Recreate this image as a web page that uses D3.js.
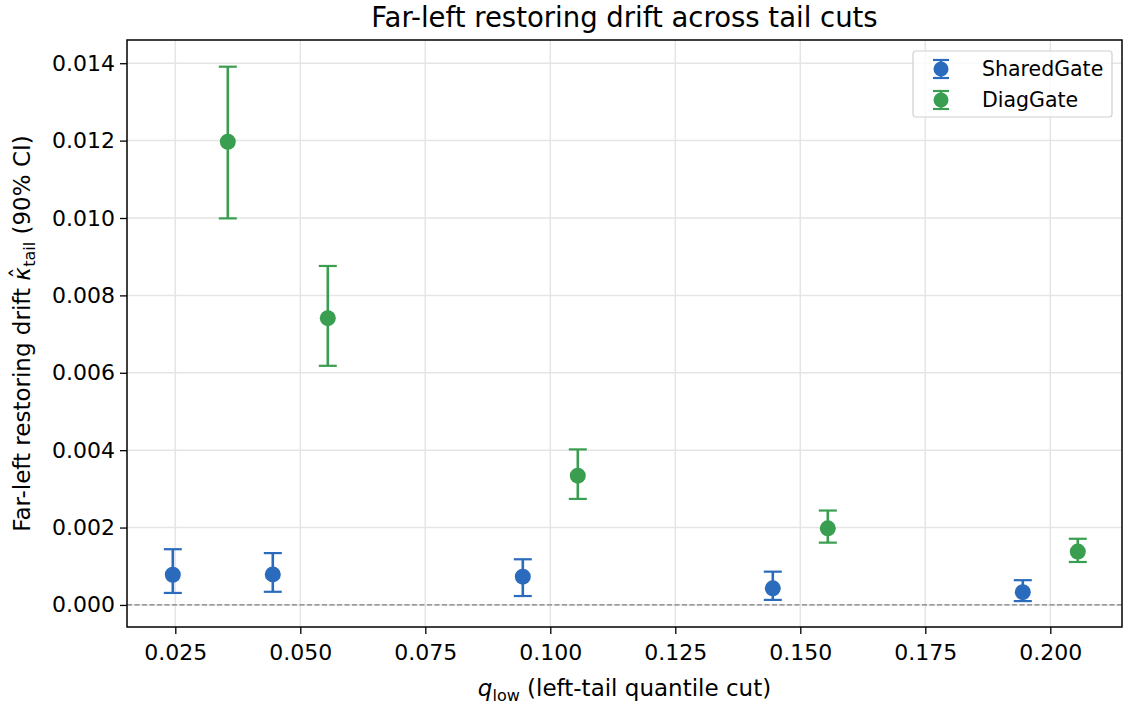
<!DOCTYPE html>
<html>
<head>
<meta charset="utf-8">
<script src="https://cdn.jsdelivr.net/npm/d3@7"></script>
<style>
  body { margin: 0; background: #fff; }
  svg { font-family: "DejaVu Sans", sans-serif; }
</style>
</head>
<body>
<div class="svg_container"></div>
<script>
// data
var qCuts = [0.03, 0.05, 0.10, 0.15, 0.20];
var sharedMean = [0.00078, 0.00079, 0.00073, 0.00043, 0.00033];
var sharedLo = [0.00031, 0.00034, 0.00023, 0.00013, 0.00010];
var sharedHi = [0.00144, 0.00134, 0.00118, 0.00086, 0.00064];
var diagMean = [0.01197, 0.00741, 0.00334, 0.00198, 0.00138];
var diagLo = [0.00999, 0.00618, 0.00274, 0.00161, 0.00111];
var diagHi = [0.01391, 0.00876, 0.00402, 0.00244, 0.00171];
var xTicks = [0.025, 0.05, 0.075, 0.1, 0.125, 0.15, 0.175, 0.2];
var yTicks = [0, 0.002, 0.004, 0.006, 0.008, 0.010, 0.012, 0.014];
var seriesNames = ["SharedGate", "DiagGate"];

const WIDTH = 1123;
const HEIGHT = 706;
const LEFT = 127, RIGHT = 1122, TOP = 40, BOTTOM = 627;
const DODGE = 0.0055;
const COLORS = ["#2b6bbd", "#3a9e50"];

var translate = function (x, y) {
  return "translate(" + x + "," + y + ")";
};

var _xScale = d3.scaleLinear()
  .domain([0.01534, 0.21434])
  .range([LEFT, RIGHT]);

var _yScale = d3.scaleLinear()
  .domain([-0.00057, 0.0146])
  .range([BOTTOM, TOP]);

var buildSeries = function (mean, lo, hi, shift) {
  return qCuts.map(function (q, i) {
    return { x: q + shift, y: mean[i], lo: lo[i], hi: hi[i] };
  });
};

var series = [
  buildSeries(sharedMean, sharedLo, sharedHi, -DODGE),
  buildSeries(diagMean, diagLo, diagHi, DODGE)
];

var svg = d3.select('.svg_container').append('svg')
  .attr('width', WIDTH)
  .attr('height', HEIGHT);

// grid
var grid = svg.append('g');
grid.selectAll('.vg').data(xTicks).enter().append('line')
  .attr('x1', function (d) { return _xScale(d); })
  .attr('x2', function (d) { return _xScale(d); })
  .attr('y1', TOP).attr('y2', BOTTOM)
  .attr('stroke', '#e5e5e5').attr('stroke-width', 1.5);
grid.selectAll('.hg').data(yTicks).enter().append('line')
  .attr('y1', function (d) { return _yScale(d); })
  .attr('y2', function (d) { return _yScale(d); })
  .attr('x1', LEFT).attr('x2', RIGHT)
  .attr('stroke', '#e5e5e5').attr('stroke-width', 1.5);

// zero line
svg.append('line')
  .attr('x1', LEFT).attr('x2', RIGHT)
  .attr('y1', _yScale(0)).attr('y2', _yScale(0))
  .attr('stroke', '#808080').attr('stroke-width', 1.3)
  .attr('stroke-dasharray', '5,2.5');

// error bars + points
series.forEach(function (data, s) {
  var g = svg.append('g');
  var col = COLORS[s];
  g.selectAll('.bar').data(data).enter().append('line')
    .attr('x1', function (d) { return _xScale(d.x); })
    .attr('x2', function (d) { return _xScale(d.x); })
    .attr('y1', function (d) { return _yScale(d.lo); })
    .attr('y2', function (d) { return _yScale(d.hi); })
    .attr('stroke', col).attr('stroke-width', 2.6);
  ['lo', 'hi'].forEach(function (k) {
    g.selectAll('.cap' + k).data(data).enter().append('line')
      .attr('x1', function (d) { return _xScale(d.x) - 9; })
      .attr('x2', function (d) { return _xScale(d.x) + 9; })
      .attr('y1', function (d) { return _yScale(d[k]); })
      .attr('y2', function (d) { return _yScale(d[k]); })
      .attr('stroke', col).attr('stroke-width', 2.2);
  });
  g.selectAll('circle').data(data).enter().append('circle')
    .attr('cx', function (d) { return _xScale(d.x); })
    .attr('cy', function (d) { return _yScale(d.y); })
    .attr('r', 8)
    .attr('fill', col);
});

// axes
var xAxis = d3.axisBottom(_xScale).tickValues(xTicks)
  .tickFormat(d3.format('.3f')).tickSizeOuter(0).tickSize(7).tickPadding(10);
var yAxis = d3.axisLeft(_yScale).tickValues(yTicks)
  .tickFormat(d3.format('.3f')).tickSizeOuter(0).tickSize(7).tickPadding(5);

var gx = svg.append('g').attr('transform', translate(0, BOTTOM)).call(xAxis);
var gy = svg.append('g').attr('transform', translate(LEFT, 0)).call(yAxis);
[gx, gy].forEach(function (g) {
  g.select('.domain').remove();
  g.selectAll('line').attr('stroke', '#000').attr('stroke-width', 1.3);
  g.selectAll('text').attr('font-size', 22).attr('fill', '#000')
    .attr('font-family', '"DejaVu Sans", sans-serif');
});

// frame
svg.append('rect')
  .attr('x', LEFT).attr('y', TOP)
  .attr('width', RIGHT - LEFT).attr('height', BOTTOM - TOP)
  .attr('fill', 'none').attr('stroke', '#000').attr('stroke-width', 1.5);

// title
svg.append('text')
  .attr('x', (LEFT + RIGHT) / 2).attr('y', 27)
  .attr('text-anchor', 'middle').attr('font-size', 27.5)
  .text('Far-left restoring drift across tail cuts');

// x label
var xl = svg.append('text')
  .attr('x', (LEFT + RIGHT) / 2).attr('y', 696)
  .attr('text-anchor', 'middle').attr('font-size', 23);
xl.append('tspan').attr('font-style', 'italic').text('q');
xl.append('tspan').attr('font-size', 16).attr('dy', 5).text('low');
xl.append('tspan').attr('dy', -5).text(' (left-tail quantile cut)');

// y label
var yl = svg.append('text')
  .attr('transform', translate(30, (TOP + BOTTOM) / 2) + ' rotate(-90)')
  .attr('text-anchor', 'middle').attr('font-size', 23);
yl.append('tspan').text('Far-left restoring drift ');
yl.append('tspan').attr('font-style', 'italic').text('\u03BA');
yl.append('tspan').attr('dx', '-0.5em').attr('dy', -3).text('\u02C6');
yl.append('tspan').attr('font-size', 16).attr('dx', '0.02em').attr('dy', 8).text('tail');
yl.append('tspan').attr('dy', -5).text(' (90% CI)');

// legend
var legend = svg.append('g').attr('transform', translate(913, 51));
legend.append('rect')
  .attr('width', 199).attr('height', 66).attr('rx', 3)
  .attr('fill', '#fff').attr('fill-opacity', 0.8)
  .attr('stroke', '#d0d0d0').attr('stroke-width', 1.2);
seriesNames.forEach(function (name, i) {
  var row = legend.append('g').attr('transform', translate(28, 18 + i * 31));
  row.append('line').attr('x1', 0).attr('x2', 0).attr('y1', -9).attr('y2', 9)
    .attr('stroke', COLORS[i]).attr('stroke-width', 2.5);
  [-9, 9].forEach(function (yy) {
    row.append('line').attr('x1', -8).attr('x2', 8).attr('y1', yy).attr('y2', yy)
      .attr('stroke', COLORS[i]).attr('stroke-width', 2.2);
  });
  row.append('circle').attr('r', 7.5).attr('fill', COLORS[i]);
  row.append('text').attr('x', 41).attr('y', 7)
    .attr('font-size', 20.5).text(name);
});
</script>
</body>
</html>
